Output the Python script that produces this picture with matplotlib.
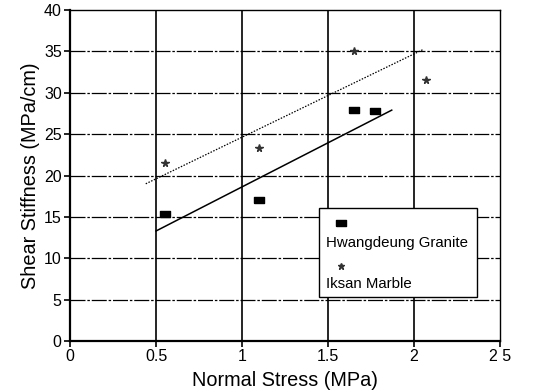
import matplotlib
matplotlib.use("Agg")
import matplotlib.pyplot as plt
from matplotlib.patches import Rectangle

plt.rcParams['font.family'] = ['Liberation Sans', 'DejaVu Sans']

# Data
granite_x = [0.55, 1.10, 1.65, 1.77]
granite_y = [15.3, 17.0, 27.9, 27.75]
marble_x = [0.55, 1.10, 1.65, 2.07]
marble_y = [21.5, 23.3, 35.0, 31.6]

granite_fit_x = [0.50, 1.87]
granite_fit_y = [13.3, 27.9]
marble_fit_x = [0.44, 2.05]
marble_fit_y = [19.0, 35.2]

x_ticks = [0, 0.5, 1, 1.5, 2, 2.5]
x_tick_labels = ['0', '0.5', '1', '1.5', '2', '2 5']
y_ticks = [0, 5, 10, 15, 20, 25, 30, 35, 40]

legend_labels = ['Hwangdeung Granite', 'Iksan Marble']

fig = plt.figure(figsize=(5.43, 3.92), dpi=100)
ax = fig.add_axes([0.129, 0.130, 0.792, 0.8445])
ax.set_xlim(0, 2.5)
ax.set_ylim(0, 40)

# grid
for xv in x_ticks[1:-1]:
    ax.axvline(xv, color='black', lw=1.2, zorder=1)
for yv in y_ticks[1:-1]:
    ax.axhline(yv, color='black', lw=0.9, ls=(0, (12, 1.5, 2, 1.5)), zorder=1)

# fits
ax.plot(granite_fit_x, granite_fit_y, color='black', lw=1.1, zorder=3)
ax.plot(marble_fit_x, marble_fit_y, color='black', lw=0.9, ls=(0, (1.2, 1.2)), zorder=3)

# points
rect = [(-1.4, -1), (1.4, -1), (1.4, 1), (-1.4, 1), (-1.4, -1)]
ax.plot(granite_x, granite_y, ls='none', marker=rect, ms=7, color='black', zorder=4)
ax.plot(marble_x, marble_y, ls='none', marker='*', ms=5.5, color='#333333', zorder=4)

# spines
for s in ['left', 'bottom']:
    ax.spines[s].set_linewidth(1.6)
for s in ['top', 'right']:
    ax.spines[s].set_linewidth(1.0)

ax.set_xticks(x_ticks)
ax.set_xticklabels(x_tick_labels)
ax.set_yticks(y_ticks)
ax.tick_params(axis='both', direction='out', length=4, width=1.2, labelsize=11.5, pad=2)
ax.set_xlabel('Normal Stress (MPa)', fontsize=14.3, labelpad=5)
ax.set_ylabel('Shear Stiffness (MPa/cm)', fontsize=14.3, labelpad=3)

# legend (custom layout: marker above label)
box = Rectangle((0.580, 0.132), 0.366, 0.269, transform=ax.transAxes,
                facecolor='white', edgecolor='black', lw=1.0, zorder=5)
ax.add_patch(box)
ax.plot([0.629], [0.356], transform=ax.transAxes, ls='none', marker=rect, ms=7,
        color='black', zorder=6, clip_on=False)
ax.text(0.595, 0.296, legend_labels[0], transform=ax.transAxes, fontsize=10.8,
        va='center', ha='left', zorder=6)
ax.plot([0.629], [0.2275], transform=ax.transAxes, ls='none', marker='*', ms=5,
        color='#333333', zorder=6, clip_on=False)
ax.text(0.595, 0.172, legend_labels[1], transform=ax.transAxes, fontsize=10.8,
        va='center', ha='left', zorder=6)

fig.savefig('out.png', dpi=100)
